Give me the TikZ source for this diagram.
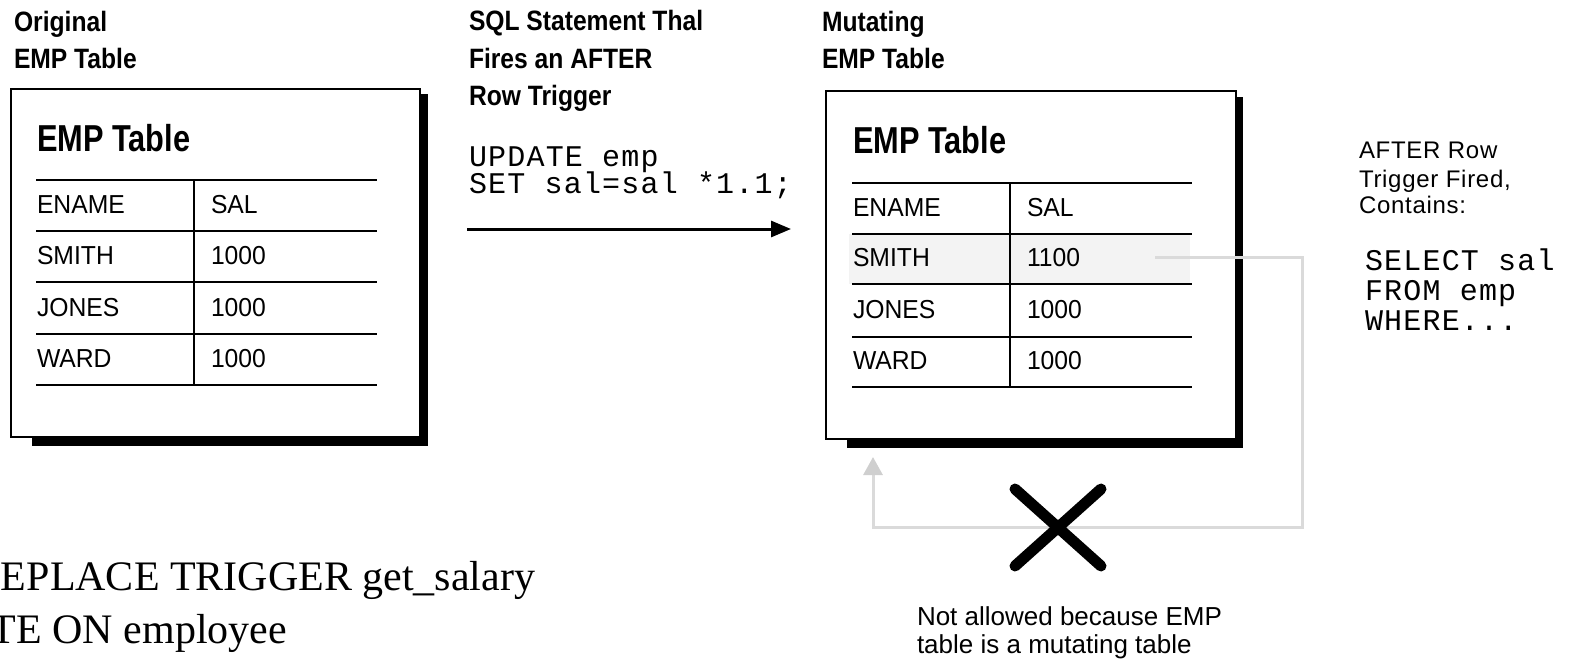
\documentclass[tikz,border=0pt]{standalone}
\usepackage{fontspec}
\setmainfont{Liberation Sans}
\setmonofont{Liberation Mono}
\newfontfamily\hdfont[FakeStretch=0.88]{Liberation Sans}
\newfontfamily\tbfont[FakeStretch=0.82]{Liberation Sans}
\newfontfamily\cellfont[FakeStretch=0.95]{Liberation Sans}
\newfontfamily\notefont[LetterSpace=3]{Liberation Sans}
\newfontfamily\codefont[LetterSpace=4]{Liberation Mono}
\newfontfamily\serfont{Liberation Serif}
\usetikzlibrary{arrows.meta}
\definecolor{conn}{HTML}{DADADA}
\definecolor{connhead}{HTML}{CFCFCF}
\definecolor{hilite}{HTML}{F3F3F3}
\tikzset{
  txt/.style={anchor=base west, inner sep=0pt, outer sep=0pt},
  hd/.style={txt, font={\hdfont\bfseries\fontsize{28}{30}\selectfont}},
  tbtitle/.style={txt, font={\tbfont\bfseries\fontsize{37.5}{40}\selectfont}},
  cell/.style={txt, font={\cellfont\fontsize{26}{28}\selectfont}},
  note/.style={txt, font={\notefont\fontsize{24}{26}\selectfont}},
  msg/.style={txt, font={\fontsize{26}{28}\selectfont}},
  code/.style={txt, font={\codefont\fontsize{30}{30}\selectfont}},
  ser/.style={inner sep=0pt, outer sep=0pt, font={\serfont\fontsize{42}{46}\selectfont}},
  tbox/.style={draw=black, fill=white, line width=2pt, inner sep=0pt, anchor=north west},
  shadow/.style={fill=black},
  tline/.style={line width=2pt, draw=black},
  flow/.style={line width=3pt, -{Triangle[length=20pt,width=16pt]}},
  grayconn/.style={line width=3pt, draw=conn, -{Triangle[length=18pt,width=19pt,fill=connhead,color=connhead]}},
  cross/.style={line width=11pt, line cap=round, draw=black}
}
\begin{document}
\begin{tikzpicture}[x=1pt,y=-1pt]
\useasboundingbox (0,0) rectangle (1574,661);

% ---------- headings ----------
\node[hd] (h1a) at (14,32) {Original};
\node[hd] (h1b) at (14,68) {EMP Table};
\node[hd] (h2a) at (469,31) {SQL Statement Thal};
\node[hd] (h2b) at (469,68) {Fires an AFTER};
\node[hd] (h2c) at (469,105) {Row Trigger};
\node[hd] (h3a) at (822,32) {Mutating};
\node[hd] (h3b) at (822,68) {EMP Table};

% ---------- left table ----------
\fill[shadow] (32,94) rectangle (428,446);
\node[tbox, minimum width=409pt, minimum height=348pt] (t1) at (10,88) {};
\node[tbtitle] (t1title) at (37,151) {EMP Table};
\foreach \yy in {180,231,282,334,385} \draw[tline] (36,\yy) -- (377,\yy);
\draw[tline] (194,180) -- (194,385);
\node[cell] (t1c11) at (37,213) {ENAME};
\node[cell] (t1c12) at (211,213) {SAL};
\node[cell] (t1c21) at (37,264) {SMITH};
\node[cell] (t1c22) at (211,264) {1000};
\node[cell] (t1c31) at (37,316) {JONES};
\node[cell] (t1c32) at (211,316) {1000};
\node[cell] (t1c41) at (37,367) {WARD};
\node[cell] (t1c42) at (211,367) {1000};

% ---------- middle statement ----------
\node[code] (upd1) at (469,166) {UPDATE emp};
\node[code] (upd2) at (469,193) {SET sal=sal *1.1;};
\coordinate (fa) at (467,229);
\coordinate (fb) at (791,229);
\draw[flow] (fa) -- (fb);

% ---------- right table ----------
\fill[shadow] (847,97) rectangle (1243,448);
\node[tbox, minimum width=410pt, minimum height=348pt] (t2) at (825,90) {};
\fill[hilite] (849,234) rectangle (1190,284);
\node[tbtitle] (t2title) at (853,153) {EMP Table};
\foreach \yy in {183,234,284,337,387} \draw[tline] (852,\yy) -- (1192,\yy);
\draw[tline] (1010,183) -- (1010,387);
\node[cell] (t2c11) at (853,216) {ENAME};
\node[cell] (t2c12) at (1027,216) {SAL};
\node[cell] (t2c21) at (853,266) {SMITH};
\node[cell] (t2c22) at (1027,266) {1100};
\node[cell] (t2c31) at (853,318) {JONES};
\node[cell] (t2c32) at (1027,318) {1000};
\node[cell] (t2c41) at (853,369) {WARD};
\node[cell] (t2c42) at (1027,369) {1000};

% ---------- gray loop connector ----------
\coordinate (cs) at (1155,257);
\coordinate (c1) at (1302,257);
\coordinate (c2) at (1302,527);
\coordinate (c3) at (873,527);
\coordinate (ct) at (873,457);
\draw[grayconn] (cs) -- (c1) -- (c2) -- (c3) -- (ct);

% ---------- cross ----------
\coordinate (xa) at (1015,489);
\coordinate (xb) at (1101,566);
\coordinate (xc) at (1101,489);
\coordinate (xd) at (1015,566);
\draw[cross] (xa) -- (xb);
\draw[cross] (xc) -- (xd);

% ---------- right notes ----------
\node[note] (n1) at (1359,158) {AFTER Row};
\node[note] (n2) at (1359,187) {Trigger Fired,};
\node[note] (n3) at (1359,213) {Contains:};
\node[code] (s1) at (1365,270) {SELECT sal};
\node[code] (s2) at (1365,300) {FROM emp};
\node[code] (s3) at (1365,330) {WHERE...};

\node[msg] (m1) at (917,625) {Not allowed because EMP};
\node[msg] (m2) at (917,653) {table is a mutating table};

% ---------- bottom serif text ----------
\node[ser, anchor=base west] (b1) at (1,590) {EPLACE TRIGGER get\_salary};
\node[ser, anchor=base east] (b2) at (287,643) {TE ON employee};
\end{tikzpicture}
\end{document}
